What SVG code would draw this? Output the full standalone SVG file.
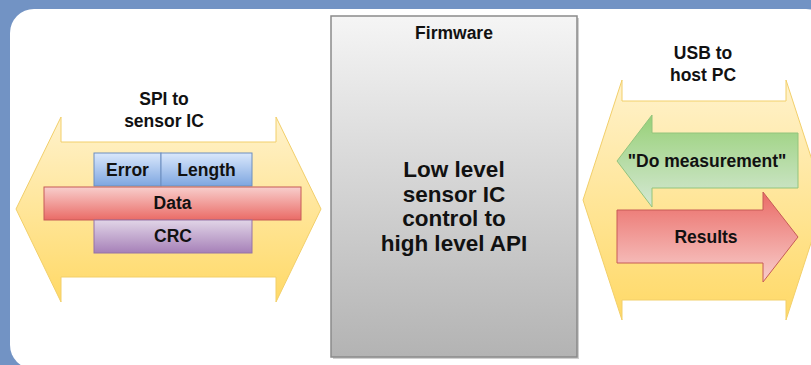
<svg xmlns="http://www.w3.org/2000/svg" width="811" height="365" viewBox="0 0 811 365">
  <defs>
    <linearGradient id="gYellow" x1="0" y1="0" x2="0" y2="1">
      <stop offset="0" stop-color="#fff2cc"/>
      <stop offset="1" stop-color="#ffd966"/>
    </linearGradient>
    <linearGradient id="gBlue" x1="0" y1="0" x2="0" y2="1">
      <stop offset="0" stop-color="#dae8fc"/>
      <stop offset="1" stop-color="#7ea6e0"/>
    </linearGradient>
    <linearGradient id="gRedDown" x1="0" y1="0" x2="0" y2="1">
      <stop offset="0" stop-color="#f8cecc"/>
      <stop offset="1" stop-color="#ea6b66"/>
    </linearGradient>
    <linearGradient id="gRedUp" x1="0" y1="0" x2="0" y2="1">
      <stop offset="0" stop-color="#ea6b66"/>
      <stop offset="1" stop-color="#f8cecc"/>
    </linearGradient>
    <linearGradient id="gPurple" x1="0" y1="0" x2="0" y2="1">
      <stop offset="0" stop-color="#e1d5e7"/>
      <stop offset="1" stop-color="#a680b8"/>
    </linearGradient>
    <linearGradient id="gGreen" x1="0" y1="0" x2="0" y2="1">
      <stop offset="0" stop-color="#97d077"/>
      <stop offset="1" stop-color="#d5e8d4"/>
    </linearGradient>
    <linearGradient id="gGrey" x1="0" y1="0" x2="0" y2="1">
      <stop offset="0" stop-color="#f5f5f5"/>
      <stop offset="1" stop-color="#b3b3b3"/>
    </linearGradient>
  </defs>
  <style>
    text { font-family: "Liberation Sans", Arial, sans-serif; font-weight: bold; fill: #111; text-anchor: middle; }
    .lbl { font-size: 17.5px; }
    .big { font-size: 22.5px; }
    .band { fill: url(#gYellow); stroke: #f2cf6a; stroke-width: 1; }
    .field { stroke-width: 1; }
  </style>

  <!-- page backdrop -->
  <rect x="0" y="0" width="811" height="365" fill="#7293c4"/>
  <rect x="10" y="9" width="820" height="360" rx="24" ry="24" fill="#ffffff"/>

  <!-- SPI link to the sensor -->
  <g id="spi">
    <polygon class="band" points="16,209 61,117 61,142 276,142 276,117 321,209 276,302 276,277 61,277 61,302"/>
    <text class="lbl" x="164" y="105">SPI to</text>
    <text class="lbl" x="164" y="127">sensor IC</text>
  </g>

  <!-- SPI frame layout -->
  <g id="frame-error">
    <rect class="field" x="94" y="153" width="67" height="33" fill="url(#gBlue)" stroke="#6c8ebf"/>
    <text class="lbl" x="127.5" y="176">Error</text>
  </g>
  <g id="frame-length">
    <rect class="field" x="161" y="153" width="91" height="33" fill="url(#gBlue)" stroke="#6c8ebf"/>
    <text class="lbl" x="206.5" y="176">Length</text>
  </g>
  <g id="frame-data">
    <rect class="field" x="44" y="187" width="257" height="33" fill="url(#gRedDown)" stroke="#c65b57"/>
    <text class="lbl" x="172.5" y="209">Data</text>
  </g>
  <g id="frame-crc">
    <rect class="field" x="94" y="220" width="158" height="33" fill="url(#gPurple)" stroke="#9673a6"/>
    <text class="lbl" x="173" y="242">CRC</text>
  </g>

  <!-- firmware block, with a soft drop shadow -->
  <g id="firmware">
    <rect x="333" y="18" width="246" height="341" fill="#d0d0d0"/>
    <rect x="331" y="16" width="246" height="341" fill="url(#gGrey)" stroke="#8a8a8a" stroke-width="1.5"/>
    <text class="lbl" x="454" y="39">Firmware</text>
    <text class="big" x="454" y="177">Low level</text>
    <text class="big" x="454" y="201.5">sensor IC</text>
    <text class="big" x="454" y="226">control to</text>
    <text class="big" x="454" y="250.5">high level API</text>
  </g>

  <!-- USB link to the host -->
  <g id="usb">
    <polygon class="band" points="583,200 622,80 622,101 786,101 786,80 825,200 786,320 786,300 622,300 622,320"/>
    <text class="lbl" x="703" y="59">USB to</text>
    <text class="lbl" x="703" y="81">host PC</text>
  </g>

  <g id="connectors">
    <g id="cmd-measure">
      <polygon points="617,161 652,115 652,133 798,133 798,188 652,188 652,207" fill="url(#gGreen)" stroke="#93c47d" stroke-width="1"/>
      <text class="lbl" x="707" y="167">"Do measurement"</text>
    </g>
    <g id="results">
      <polygon points="617,210 763,210 763,192 798,237 763,282 763,263 617,263" fill="url(#gRedUp)" stroke="#c65b57" stroke-width="1"/>
      <text class="lbl" x="706" y="243">Results</text>
    </g>
  </g>
</svg>
